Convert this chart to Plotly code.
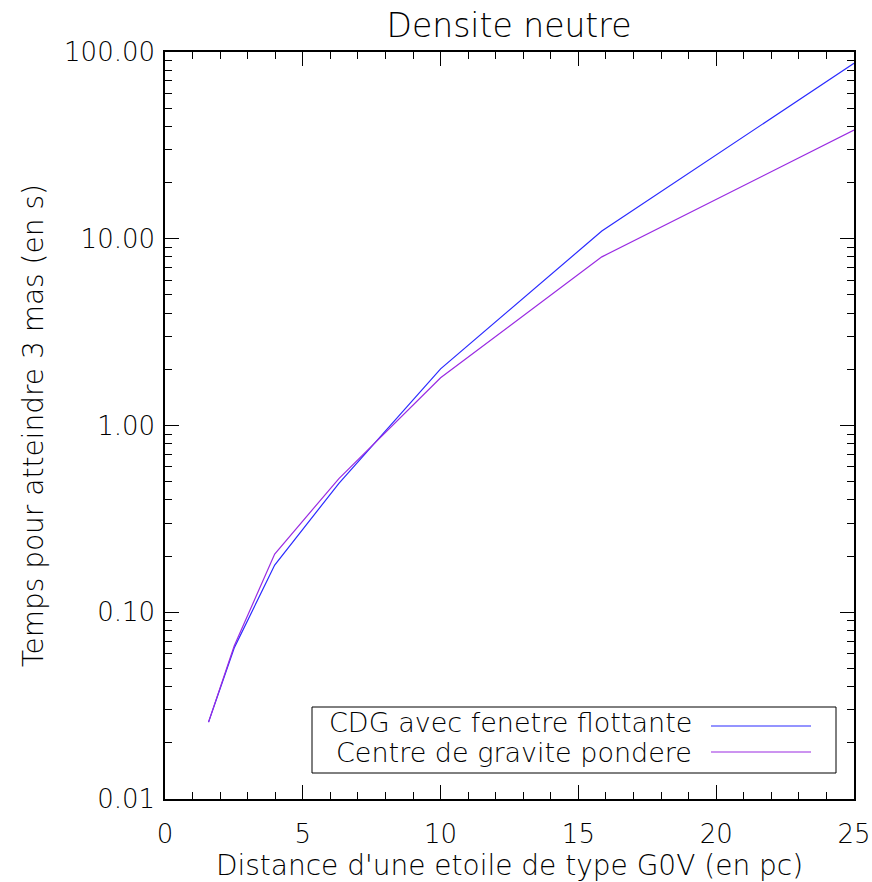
import plotly.graph_objects as go

# distances (pc) and times (s)
distance = [1.58, 2.51, 3.98, 6.31, 10.0, 15.85, 25.0]
t_cdg = [0.0258, 0.0644, 0.179, 0.49, 2.01, 11.0, 87.0]
t_pondere = [0.0258, 0.066, 0.205, 0.52, 1.80, 8.0, 38.2]

names = ["CDG avec fenetre flottante", "Centre de gravite pondere"]
colors = ["#2a2aff", "#9a2be2"]

y_major = [0.01, 0.1, 1, 10, 100]
y_major_text = ["0.01", "0.10", "1.00", "10.00", "100.00"]
y_minor = [m * 10 ** e for e in range(-2, 2) for m in range(2, 10)]

FONT = "DejaVu Sans"
W, H = 872, 882
L, R, T, B = 165, 854, 52, 799  # plot area in pixels


def px(x):
    return (x - L) / (R - L)


def py(y):
    return (B - y) / (B - T)


fig = go.Figure()
fig.add_trace(go.Scatter(x=distance, y=t_cdg, mode="lines", name=names[0],
                         line=dict(color=colors[0], width=1.2), showlegend=False))
fig.add_trace(go.Scatter(x=distance, y=t_pondere, mode="lines", name=names[1],
                         line=dict(color=colors[1], width=1.2), showlegend=False))

# hand-made legend box, IDL style (text then line sample)
fig.add_shape(type="rect", xref="paper", yref="paper",
              x0=px(312), x1=px(836), y0=py(773), y1=py(707),
              line=dict(color="black", width=1), fillcolor="white")
for i, (nm, c) in enumerate(zip(names, colors)):
    yy = 722 + 30 * i
    fig.add_annotation(text=nm, xref="paper", yref="paper", x=px(694), y=py(yy),
                       xanchor="right", yanchor="middle", showarrow=False,
                       font=dict(family=FONT, size=27, color="black", weight=300))
    fig.add_shape(type="line", xref="paper", yref="paper",
                  x0=px(711), x1=px(811), y0=py(yy + 4 - 4 * i), y1=py(yy + 4 - 4 * i),
                  line=dict(color=c, width=1.2))

axis_common = dict(showgrid=False, zeroline=False, showline=True, linecolor="black",
                   linewidth=1.5, mirror="allticks", ticks="inside", ticklen=14,
                   tickwidth=1, tickcolor="black", automargin=False,
                   tickfont=dict(family=FONT, size=26, color="black", weight=300))

fig.update_xaxes(range=[0, 25], tickvals=[0, 5, 10, 15, 20, 25],
                 minor=dict(ticks="inside", ticklen=7, dtick=1, tickcolor="black"),
                 ticklabelstandoff=11,
                 title=dict(text="Distance d'une etoile de type G0V (en pc)", standoff=9,
                            font=dict(family=FONT, size=28, color="black", weight=300)),
                 **axis_common)
fig.update_yaxes(type="log", range=[-2, 2], tickvals=y_major, ticktext=y_major_text,
                 minor=dict(ticks="inside", ticklen=7, tickmode="array", tickvals=y_minor,
                            tickcolor="black"),
                 ticklabelstandoff=3,
                 title=dict(text="Temps pour atteindre 3 mas (en s)", standoff=12,
                            font=dict(family=FONT, size=28, color="black", weight=300)),
                 **axis_common)

fig.update_layout(
    width=W, height=H,
    margin=dict(l=L, r=W - R, t=T, b=H - B, autoexpand=False),
    paper_bgcolor="white", plot_bgcolor="white",
    title=dict(text="Densite neutre", x=509 / W, xanchor="center",
               y=1 - 25 / H, yanchor="middle", yref="container",
               font=dict(family=FONT, size=33, color="black", weight=300)),
)

# drop the default 8px page margin so the figure sits at the window's corner
fig.write_html("out.html", config={"displayModeBar": False},
               post_script="document.body.style.margin='0';document.body.style.overflow='hidden';")
